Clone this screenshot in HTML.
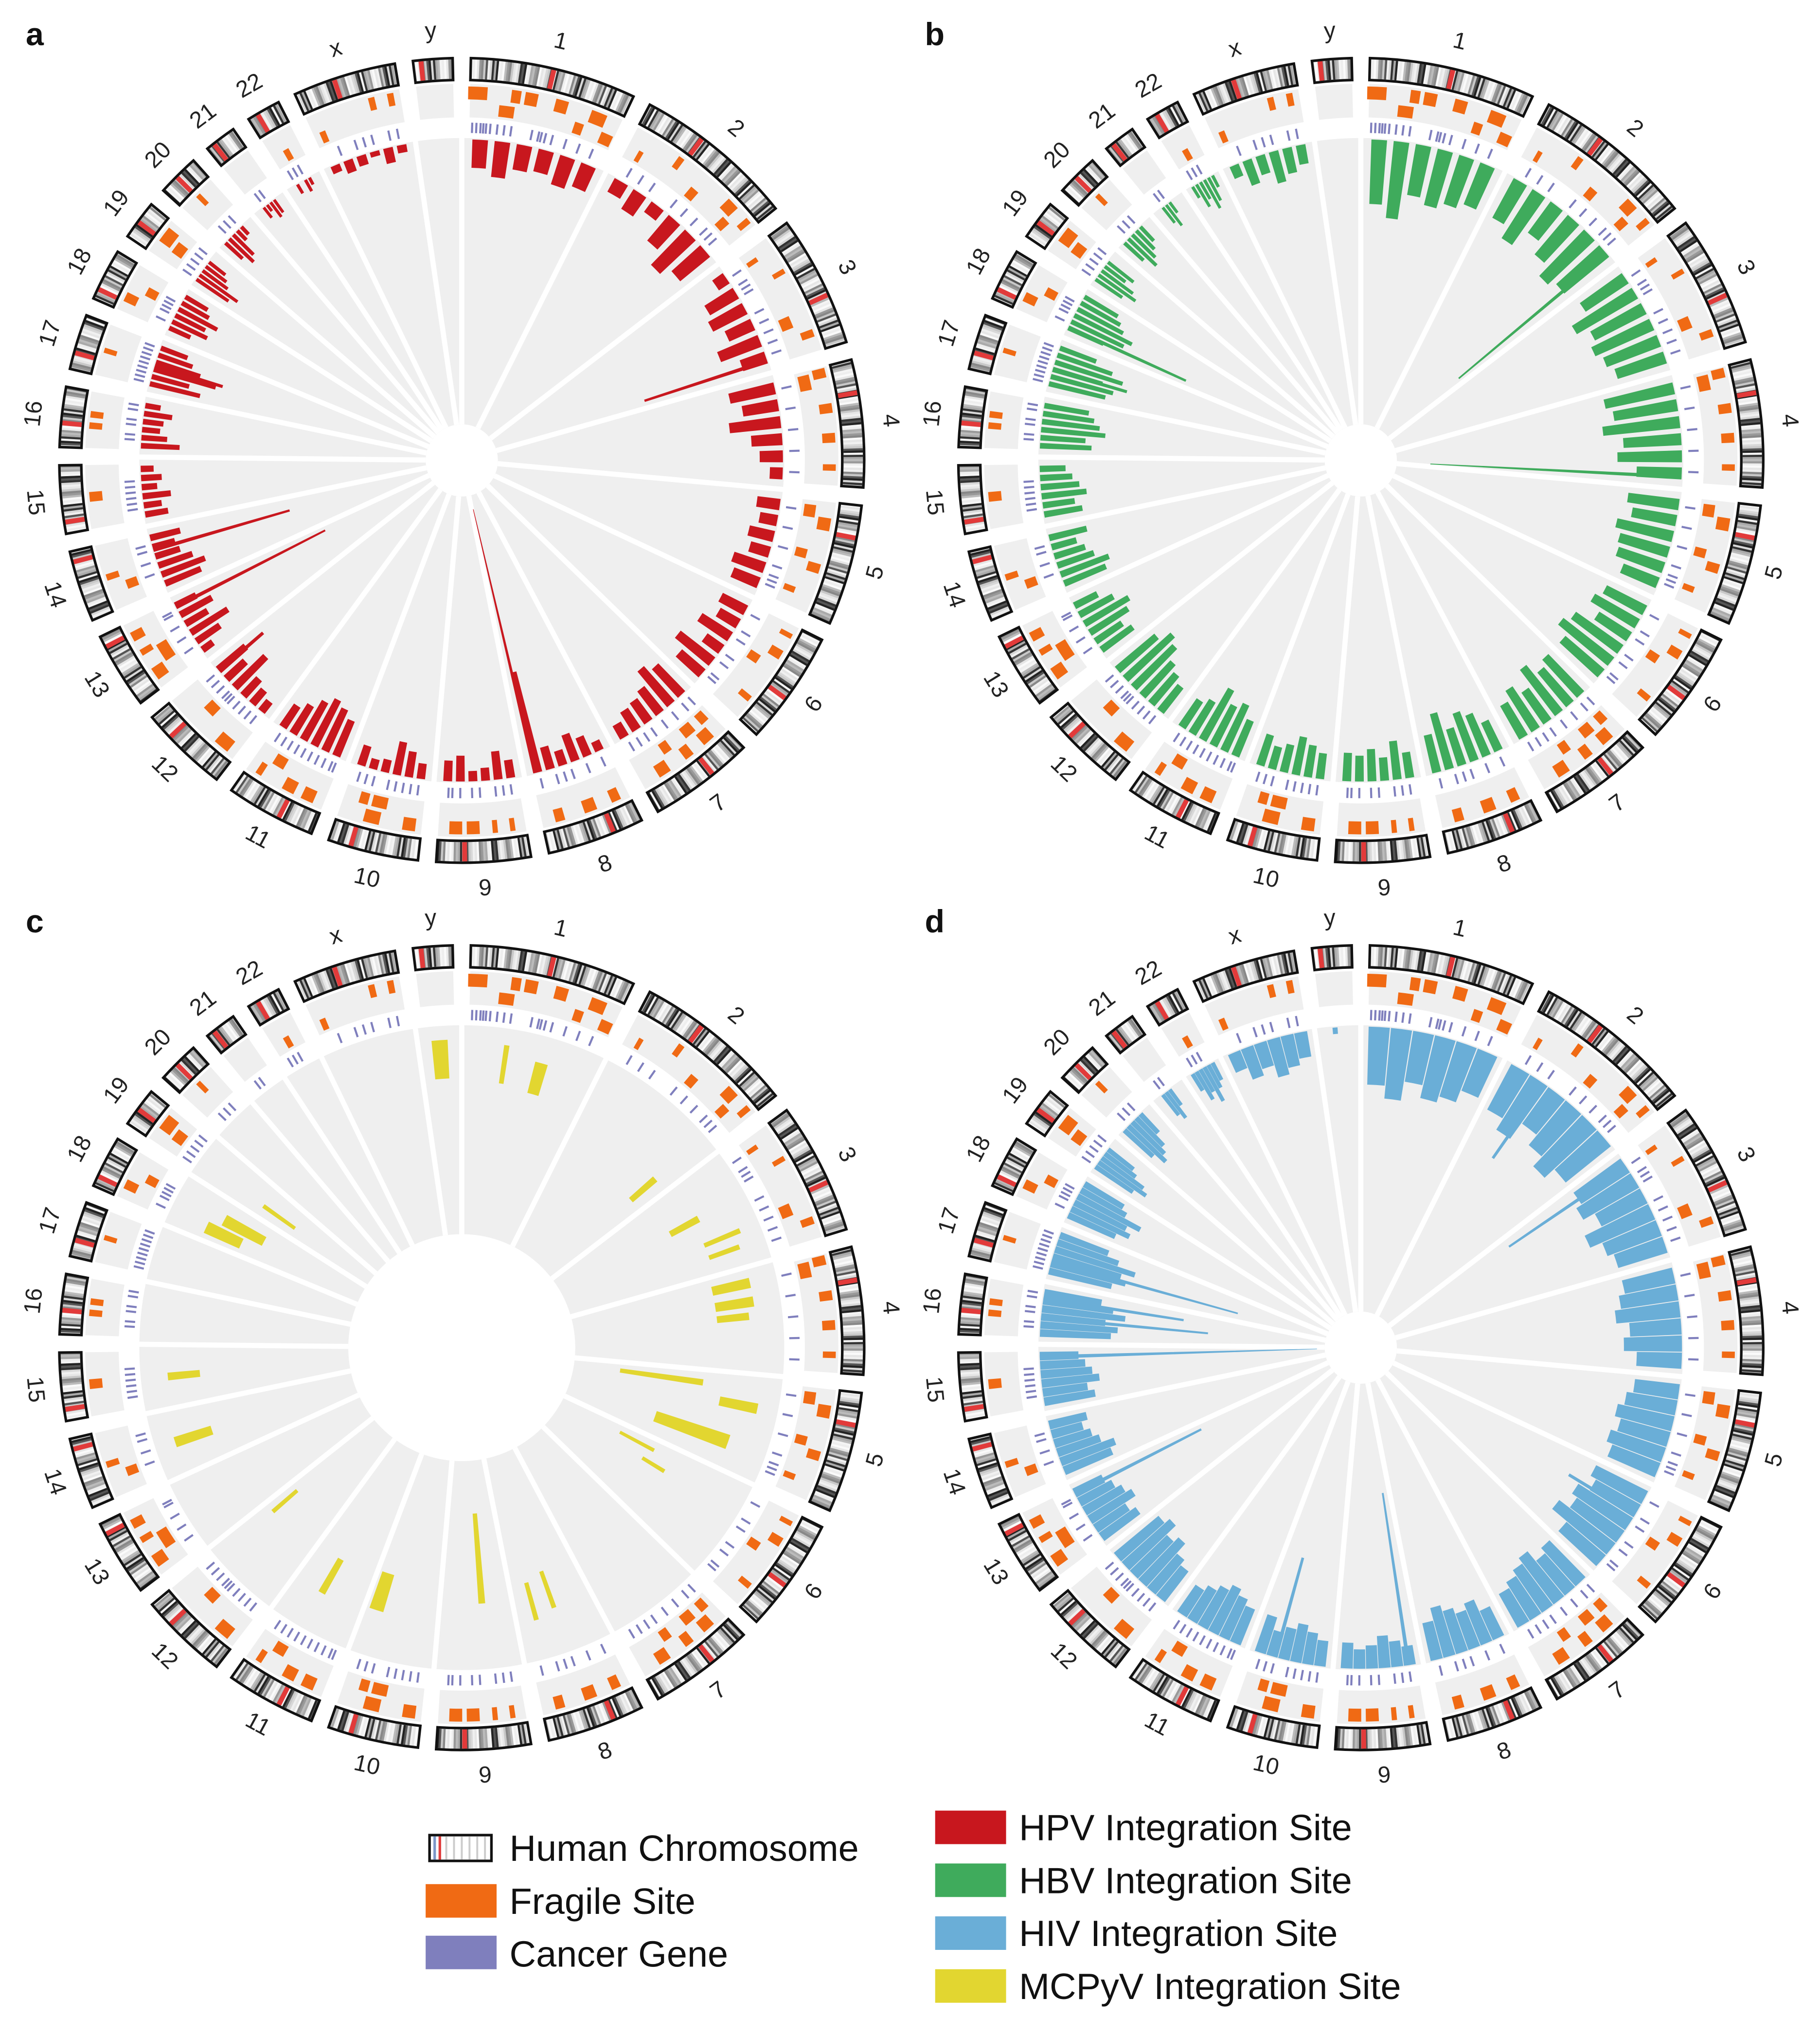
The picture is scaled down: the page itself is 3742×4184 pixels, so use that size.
<!DOCTYPE html>
<html><head><meta charset="utf-8"><title>Viral integration sites circos</title>
<style>html,body{margin:0;padding:0;background:#fff}svg{display:block}text{font-family:"Liberation Sans",sans-serif}</style>
</head><body>
<svg id="chart" width="3742" height="4184" viewBox="0 0 1411 1578" preserveAspectRatio="none" xmlns="http://www.w3.org/2000/svg">
<g id="legend">
 <g>
  <rect x="333" y="1423" width="48" height="20" fill="#fff" stroke="#111" stroke-width="2"/>
  <line x1="337" y1="1424" x2="337" y2="1442" stroke="#7d97c8" stroke-width="2"/>
  <line x1="341" y1="1424" x2="341" y2="1442" stroke="#e04040" stroke-width="2"/>
  <line x1="346" y1="1424" x2="346" y2="1442" stroke="#ccc" stroke-width="1.5"/>
  <line x1="352" y1="1424" x2="352" y2="1442" stroke="#ccc" stroke-width="1.5"/>
  <line x1="358" y1="1424" x2="358" y2="1442" stroke="#ccc" stroke-width="1.5"/>
  <line x1="364" y1="1424" x2="364" y2="1442" stroke="#ccc" stroke-width="1.5"/>
  <line x1="370" y1="1424" x2="370" y2="1442" stroke="#ccc" stroke-width="1.5"/>
  <line x1="376" y1="1424" x2="376" y2="1442" stroke="#ccc" stroke-width="1.5"/>
  <text x="395" y="1443" font-size="28.5" fill="#111">Human Chromosome</text>
 </g>
 <g>
  <rect x="330" y="1461" width="55" height="26" fill="#f06a14"/>
  <text x="395" y="1484" font-size="28.5" fill="#111">Fragile Site</text>
 </g>
 <g>
  <rect x="330" y="1501" width="55" height="26" fill="#7f7fbd"/>
  <text x="395" y="1525" font-size="28.5" fill="#111">Cancer Gene</text>
 </g>
 <g>
  <rect x="725" y="1404" width="55" height="26" fill="#c8171e"/>
  <text x="790" y="1427" font-size="28.5" fill="#111">HPV Integration Site</text>
 </g>
 <g>
  <rect x="725" y="1445" width="55" height="26" fill="#3fab5c"/>
  <text x="790" y="1468" font-size="28.5" fill="#111">HBV Integration Site</text>
 </g>
 <g>
  <rect x="725" y="1486" width="55" height="26" fill="#6aaed7"/>
  <text x="790" y="1509" font-size="28.5" fill="#111">HIV Integration Site</text>
 </g>
 <g>
  <rect x="725" y="1527" width="55" height="26" fill="#e2d630"/>
  <text x="790" y="1550" font-size="28.5" fill="#111">MCPyV Integration Site</text>
 </g>
</g>
</svg>
<script>
const chrNames=['1','2','3','4','5','6','7','8','9','10','11','12','13','14','15','16','17','18','19','20','21','22','x','y'];
const chrLen=[249,243,198,191,181,171,159,146,141,136,135,133,115,107,102,90,83,78,59,63,48,51,155,59];
const centro=[0.5,0.38,0.62,0.26,0.27,0.6,0.38,0.31,0.7,0.75,0.4,0.7,0.85,0.85,0.17,0.4,0.3,0.2,0.45,0.45,0.25,0.3,0.4,0.2];
const fragile=[[0,0.05,0,3],[0,0.25,1,2.5],[0,0.3,0,1.5],[0,0.4,0,2],[0,0.6,0,2],[0,0.75,1,1.5],[0,0.85,0,2.5],[0,0.95,1,2],
[1,0.1,1,0.8],[1,0.35,0,1],[1,0.55,1,1.5],[1,0.8,0,2],[1,0.85,1,1.5],[1,0.95,0,1],[2,0.1,1,0.8],[2,0.3,0,0.8],[2,0.7,1,2],[2,0.85,0,1.2],
[3,0.05,0,1.5],[3,0.1,1,2.5],[3,0.35,0,1.5],[3,0.6,0,1.5],[3,0.85,0,1],[4,0.1,1,2],[4,0.2,0,2],[4,0.5,1,1.5],[4,0.6,0,1.5],[4,0.85,1,1],
[5,0.1,0,0.8],[5,0.3,0,1.5],[5,0.45,1,1.5],[5,0.8,0,1],[6,0.1,1,1.5],[6,0.2,0,2],[6,0.3,1,2],[6,0.45,0,1.5],[6,0.6,1,1.5],[6,0.75,0,2],
[7,0.15,0,1.5],[7,0.45,0,2],[7,0.8,0,1.5],[8,0.15,0,0.8],[8,0.35,0,0.8],[8,0.6,0,2],[8,0.8,0,2],
[9,0.15,0,2],[9,0.55,1,2.5],[9,0.6,0,2.5],[9,0.75,1,1.5],[10,0.2,0,2],[10,0.45,0,2],[10,0.7,1,2],[10,0.85,0,1],
[11,0.2,0,2.5],[11,0.6,1,2],[12,0.2,0,2],[12,0.4,1,3],[12,0.55,0,1],[12,0.8,0,1.5],[13,0.3,1,1.5],[13,0.5,0,1],[14,0.5,0,1.5],
[15,0.4,0,1],[15,0.6,0,1],[16,0.5,0,0.8],[17,0.3,0,1.5],[17,0.6,1,1.5],[18,0.5,1,2],[18,0.6,0,2.5],[19,0.5,0,0.8],[21,0.5,1,1],[22,0.1,1,1],[22,0.7,0,1],[22,0.9,0,1]];
const cancer=[[0.02,0.05,0.08,0.1,0.12,0.15,0.2,0.25,0.3,0.45,0.5,0.52,0.55,0.6,0.7,0.8,0.9],[0.1,0.2,0.3,0.5,0.6,0.7,0.8,0.85,0.9],[0.1,0.2,0.25,0.3,0.5,0.6,0.7,0.8,0.9],[0.1,0.3,0.5,0.7,0.9],[0.1,0.3,0.5,0.7,0.8,0.85,0.9],[0.1,0.3,0.4,0.6,0.7,0.85,0.9],[0.05,0.15,0.3,0.45,0.6,0.7,0.8,0.9],[0.1,0.3,0.5,0.6,0.7,0.9],[0.1,0.2,0.3,0.5,0.6,0.75,0.85,0.9],[0.1,0.2,0.3,0.4,0.5,0.7,0.8,0.9],[0.05,0.1,0.2,0.3,0.4,0.5,0.6,0.7,0.8,0.9],[0.1,0.2,0.3,0.4,0.5,0.55,0.6,0.7,0.8,0.9],[0.2,0.4,0.6,0.8,0.85],[0.3,0.5,0.7,0.8],[0.2,0.3,0.4,0.5,0.6,0.7],[0.2,0.3,0.5,0.6,0.8,0.9],[0.1,0.2,0.3,0.4,0.5,0.6,0.7,0.8,0.9],[0.2,0.4,0.5,0.6,0.7],[0.1,0.3,0.5,0.7,0.9],[0.3,0.5,0.7],[0.3,0.5],[0.2,0.4,0.6],[0.2,0.4,0.5,0.6,0.8,0.9],[]];
const hpvBins=[[22,28,20,18,24,20],[12,18,10,26,38,30],[10,26,30,22,34,20],[36,28,40,24,18,10],[18,14,20,16,26,22],[22,18,28,16,34,24],[30,36,24,20,18,12],[8,16,22,12,18,80],[14,22,10,8,20,16],[12,20,26,10,8,16],[30,36,40,34,26,20],[10,14,18,34,20,28],[10,22,34,20,28,18],[30,36,28,20,18,24],[18,14,22,12,16,10],[30,20,14,16,22,12],[40,30,50,36,28,22],[18,30,26,34,24,20],[30,36,24,20,16,0],[18,26,22,10,8,0],[0,10,6,14,12,0],[0,8,0,10,6,0],[6,10,8,4,12,6],[0,0,0,0,0,0]];
const hpvSpikes=[[2,0.95,100],[7,0.95,210],[12,0.9,130],[13,0.7,110],[16,0.5,55],[11,0.9,45]];
const hbvBins=[[50,60,40,45,40,35],[35,45,30,40,50,45],[40,55,45,50,45,40],[55,50,60,45,50,35],[40,35,45,40,38,30],[35,40,30,45,50,40],[40,35,45,30,38,30],[25,35,40,30,45,30],[20,30,18,25,20,22],[20,25,30,22,18,25],[30,40,35,45,30,25],[25,30,35,45,50,40],[30,25,35,40,30,20],[35,40,30,25,20,30],[30,25,35,30,25,20],[40,35,50,45,40,35],[45,50,40,55,45,30],[30,45,50,40,35,30],[25,35,30,20,25,0],[20,30,25,20,15,0],[0,15,20,10,0,0],[10,20,15,25,20,10],[10,20,15,25,20,15],[0,0,0,0,0,0]];
const hbvSpikes=[[1,0.95,150],[3,0.95,195],[17,0.1,100],[16,0.4,60]];
const hivBins=[[45,55,40,50,45,35],[40,50,35,45,55,45],[45,50,40,55,45,40],[40,45,50,40,45,35],[35,40,45,40,45,40],[45,40,50,45,55,40],[40,35,45,40,35,30],[25,35,30,35,40,30],[15,20,25,18,15,20],[20,25,30,25,20,30],[30,35,40,35,30,25],[30,35,45,40,50,45],[35,30,40,35,30,25],[40,45,35,30,25,30],[40,35,45,40,35,30],[55,60,50,65,55,45],[50,60,55,65,50,40],[40,50,45,55,40,35],[35,45,40,30,25,0],[30,40,35,30,20,0],[0,20,25,15,0,0],[15,25,20,30,20,15],[15,25,20,30,25,20],[0,0,5,0,0,0]];
const hivSpikes=[[14,0.9,215],[15,0.4,130],[16,0.3,150],[2,0.1,110],[12,0.9,110],[8,0.1,135],[9,0.7,80],[5,0.3,60],[15,0.8,110],[1,0.3,70]];
const mcpyv=[[23,0.5,10,30,3],[0,0.3,12,30,1],[0,0.6,20,25,2.5],[1,0.9,50,25,1.5],[2,0.4,40,25,1.5],[2,0.7,15,30,1],[2,0.85,20,25,1],[3,0.1,20,30,2],[3,0.3,20,30,2],[3,0.45,25,25,1.5],[4,0.1,60,65,1.5],[4,0.3,15,30,2],[4,0.75,30,60,3],[5,0.1,80,30,1],[5,0.3,65,20,1],[7,0.8,30,30,1],[7,0.5,35,30,1],[8,0.4,50,70,1.5],[9,0.9,35,30,3],[10,0.6,30,30,1.5],[11,0.9,55,25,1],[13,0.5,15,30,2],[14,0.5,20,25,1.5],[18,0.3,60,30,1],[17,0.6,40,35,2.5],[17,0.2,30,30,2.5]];
const shades=['#f4f4f4','#d8d8d8','#888','#eee','#333','#c8c8c8','#fafafa','#aaa','#555','#e6e6e6','#bbb','#222','#f0f0f0','#999'];

const NS='http://www.w3.org/2000/svg';
const svg=document.getElementById('chart');
const GAP=2.6, START=1.3;
const total=chrLen.reduce((a,b)=>a+b,0);
const degPerMb=(360-24*GAP)/total;
const chrStart=[];let acc=START;
chrLen.forEach((l)=>{chrStart.push(acc);acc+=l*degPerMb+GAP;});
function ang(c,p){return chrStart[c]+p*chrLen[c]*degPerMb;}
function pt(cx,cy,r,a){const t=a*Math.PI/180;return [cx+r*Math.sin(t),cy-r*Math.cos(t)];}
function sector(cx,cy,r1,r2,a1,a2){
 const p1=pt(cx,cy,r2,a1),p2=pt(cx,cy,r2,a2),p3=pt(cx,cy,r1,a2),p4=pt(cx,cy,r1,a1);
 const lg=(a2-a1)>180?1:0;
 return `M${p1[0].toFixed(2)},${p1[1].toFixed(2)}A${r2},${r2} 0 ${lg} 1 ${p2[0].toFixed(2)},${p2[1].toFixed(2)}L${p3[0].toFixed(2)},${p3[1].toFixed(2)}A${r1},${r1} 0 ${lg} 0 ${p4[0].toFixed(2)},${p4[1].toFixed(2)}Z`;
}
function mk(tag,attrs,parent){const e=document.createElementNS(NS,tag);for(const k in attrs)e.setAttribute(k,attrs[k]);parent.appendChild(e);return e;}

function panel(letter,cx,cy,innerR,bins,spikes,color,mode){
 const g=mk('g',{},svg);
 
 
 const lt=mk('text',{x:cx-338,y:cy-322,'font-size':25,'font-weight':'bold',fill:'#111'},g);
 lt.textContent=letter;
 
 
 const disc=mk('path',{d:sector(cx,cy,innerR,250,0,180)+sector(cx,cy,innerR,250,180,360),fill:'#efefef'},g);
 
 
 chrLen.forEach((l,c)=>{
  const a1=chrStart[c],a2=a1+l*degPerMb;
  const cg=mk('g',{},g);
  
  
  const q1=pt(cx,cy,innerR,a1-GAP/2),q2=pt(cx,cy,251,a1-GAP/2);
  const sep=mk('line',{x1:q1[0],y1:q1[1],x2:q2[0],y2:q2[1],stroke:'#fff','stroke-width':4},cg);
  
  
  const fb=mk('path',{d:sector(cx,cy,266,292,a1,a2),fill:'#efefef'},cg);
  
  
  const n=Math.max(6,Math.floor(l/3.2));
  for(let i=0;i<n;i++){
   const s=a1+(a2-a1)*i/n,e=a1+(a2-a1)*(i+1)/n;
   const st=mk('path',{d:sector(cx,cy,296,311,s,e+0.02),fill:shades[(i*3+c*5+Math.floor(i/4))%shades.length]},cg);
   
   
  }
  const cm=ang(c,centro[c]);
  const cen=mk('path',{d:sector(cx,cy,296,311,cm-0.35,cm+0.35),fill:'#e23a3a'},cg);
  
  
  const ob=mk('path',{d:sector(cx,cy,295,312,a1,a2),fill:'none',stroke:'#111','stroke-width':2},cg);
  
  
  const mid=(a1+a2)/2,lp=pt(cx,cy,333,mid);
  let rot=(mid>90&&mid<270)?mid-180:(mid>=270?mid-360:mid);
  const tx=mk('text',{x:lp[0].toFixed(1),y:lp[1].toFixed(1),'font-size':18,'text-anchor':'middle','dominant-baseline':'middle',fill:'#222',transform:`rotate(${rot.toFixed(1)} ${lp[0].toFixed(1)} ${lp[1].toFixed(1)})`},cg);
  tx.textContent=chrNames[c];
  
  
  cancer[c].forEach(p=>{
   const a=ang(c,p),u=pt(cx,cy,254,a),v=pt(cx,cy,262,a);
   const cl=mk('line',{x1:u[0],y1:u[1],x2:v[0],y2:v[1],stroke:'#7f7fbd','stroke-width':1.6},cg);
   
   
  });
  if(bins){
   const bw=(a2-a1)/6;
   bins[c].forEach((h,i)=>{
    if(h<=0)return;
    const s=a1+bw*i,frac=mode==='solid'?0.95:0.7,w=bw*frac;
    const b=mk('path',{d:sector(cx,cy,249-h,249,s+(bw-w)/2,s+(bw+w)/2),fill:color},cg);
    
    
   });
  }
 });
 fragile.forEach(f=>{
  const a=ang(f[0],f[1]),r1=f[2]===0?280:268,r2=f[2]===0?290:277;
  const fs=mk('path',{d:sector(cx,cy,r1,r2,a-f[3]/2,a+f[3]/2),fill:'#f06a14'},g);
  
  
 });
 if(spikes){spikes.forEach(s=>{
  const a=ang(s[0],s[1]);
  const sp=mk('path',{d:sector(cx,cy,249-s[2],249,a-0.35,a+0.35),fill:color},g);
  
  
 });}
 if(mode==='float'){mcpyv.forEach(m=>{
  const a=ang(m[0],m[1]);
  const mb=mk('path',{d:sector(cx,cy,249-m[2]-m[3],249-m[2],a-m[4]/2,a+m[4]/2),fill:color},g);
  
  
 });}
}
panel('a',358,357,28,hpvBins,hpvSpikes,'#c8171e','block');
panel('b',1055,357,28,hbvBins,hbvSpikes,'#3fab5c','block');
panel('c',358,1045,88,null,null,'#e2d630','float');
panel('d',1055,1045,28,hivBins,hivSpikes,'#6aaed7','solid');
</script>
</body></html>
